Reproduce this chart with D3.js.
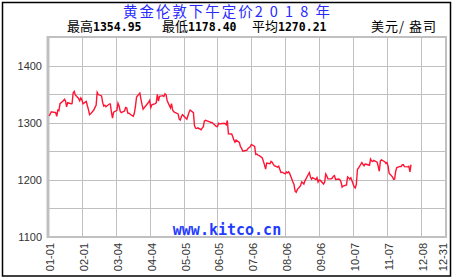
<!DOCTYPE html>
<html>
<head>
<meta charset="utf-8">
<script src="https://cdn.jsdelivr.net/npm/d3@7"></script>
<style>
body { margin: 0; background: #fff; }
</style>
</head>
<body>
<script>
// London PM gold fix 2018, trading days (MM-DD) and prices
var tradeDays = [
	'01-02','01-03','01-04','01-05','01-08','01-09','01-10','01-11','01-12','01-15','01-16','01-17','01-18','01-19','01-22','01-23','01-24','01-25','01-26','01-29','01-30','01-31',
	'02-01','02-02','02-05','02-06','02-07','02-08','02-09','02-12','02-13','02-14','02-15','02-16','02-19','02-20','02-21','02-22','02-23','02-26','02-27','02-28',
	'03-01','03-02','03-05','03-06','03-07','03-08','03-09','03-12','03-13','03-14','03-15','03-16','03-19','03-20','03-21','03-22','03-23','03-26','03-27','03-28','03-29',
	'04-03','04-04','04-05','04-06','04-09','04-10','04-11','04-12','04-13','04-16','04-17','04-18','04-19','04-20','04-23','04-24','04-25','04-26','04-27','04-30',
	'05-01','05-02','05-03','05-04','05-08','05-09','05-10','05-11','05-14','05-15','05-16','05-17','05-18','05-21','05-22','05-23','05-24','05-25','05-29','05-30','05-31',
	'06-01','06-04','06-05','06-06','06-07','06-08','06-11','06-12','06-13','06-14','06-15','06-18','06-19','06-20','06-21','06-22','06-25','06-26','06-27','06-28','06-29',
	'07-02','07-03','07-04','07-05','07-06','07-09','07-10','07-11','07-12','07-13','07-16','07-17','07-18','07-19','07-20','07-23','07-24','07-25','07-26','07-27','07-30','07-31',
	'08-01','08-02','08-03','08-06','08-07','08-08','08-09','08-10','08-13','08-14','08-15','08-16','08-17','08-20','08-21','08-22','08-23','08-24','08-28','08-29','08-30','08-31',
	'09-03','09-04','09-05','09-06','09-07','09-10','09-11','09-12','09-13','09-14','09-17','09-18','09-19','09-20','09-21','09-24','09-25','09-26','09-27','09-28',
	'10-01','10-02','10-03','10-04','10-05','10-08','10-09','10-10','10-11','10-12','10-15','10-16','10-17','10-18','10-19','10-22','10-23','10-24','10-25','10-26','10-29','10-30','10-31',
	'11-01','11-02','11-05','11-06','11-07','11-08','11-09','11-12','11-13','11-14','11-15','11-16','11-19','11-20','11-21','11-22','11-23','11-26','11-27','11-28','11-29'
];
var pmFix = [
	1312.05,1314.95,1319.10,1318.65,1317.60,1311.00,1322.00,1321.10,1333.25,1338.35,1340.95,1338.25,1327.75,1335.00,1333.30,1333.55,1352.00,1354.95,1348.70,1342.55,1338.35,1343.35,
	1340.00,1333.05,1337.15,1329.70,1323.00,1313.95,1315.50,1322.65,1326.85,1330.55,1353.15,1349.25,1346.80,1335.20,1329.10,1330.70,1328.00,1332.65,1332.85,1318.35,
	1308.05,1318.50,1321.65,1334.10,1329.20,1320.30,1317.75,1320.60,1326.60,1325.60,1316.85,1316.55,1312.20,1311.25,1317.00,1329.05,1345.00,1351.90,1341.30,1331.65,1323.85,
	1335.70,1339.05,1326.65,1331.45,1333.45,1334.90,1349.45,1337.95,1346.20,1347.30,1345.95,1350.85,1348.85,1338.25,1325.95,1333.50,1322.20,1319.40,1318.20,1315.45,
	1306.15,1304.60,1311.00,1314.05,1306.20,1312.10,1318.35,1322.25,1317.70,1294.70,1290.30,1289.85,1290.95,1287.75,1290.55,1292.60,1302.60,1304.05,1301.40,1300.40,1300.45,
	1298.50,1293.15,1293.25,1299.00,1298.05,1298.20,1299.10,1298.45,1296.40,1303.95,1280.60,1280.25,1275.50,1269.95,1265.85,1269.85,1265.70,1257.95,1255.70,1250.45,1250.45,
	1252.00,1255.00,1256.50,1258.00,1262.00,1258.65,1244.60,1245.30,1243.30,1242.80,1238.20,1232.30,1226.20,1218.75,1229.20,1228.15,1232.20,1230.70,1227.55,1224.85,1222.15,1223.85,
	1218.50,1212.90,1213.35,1210.55,1213.65,1212.40,1214.00,1211.25,1196.40,1192.05,1180.40,1178.40,1182.85,1189.70,1196.40,1194.75,1192.65,1198.30,1212.80,1205.50,1201.20,1203.75,
	1200.50,1204.00,1196.05,1199.80,1199.40,1192.65,1195.85,1210.30,1206.80,1201.80,1202.05,1203.05,1206.40,1207.55,1200.70,1201.50,1200.35,1196.10,1187.25,1189.25,
	1191.20,1205.20,1203.45,1201.35,1203.50,1187.75,1185.80,1192.15,1218.30,1220.75,1230.35,1227.35,1224.80,1227.75,1227.25,1225.50,1236.35,1233.00,1232.10,1234.05,1230.95,1223.85,1215.00,
	1233.15,1234.90,1231.80,1228.75,1230.30,1224.25,1211.50,1205.35,1201.25,1201.50,1215.05,1221.55,1223.45,1223.25,1226.40,1226.35,1223.20,1222.75,1223.80,1213.95,1226.60
];

// axis ticks
var xTickLabels = ['01-01','02-01','03-04','04-04','05-05','06-05','07-06','08-06','09-06','10-07','11-07','12-08','12-31'];
var yTickLabels = [1100, 1200, 1300, 1400];
var yGrid = [1150, 1200, 1250, 1300, 1350, 1400];

// header texts
var title = '黄金伦敦下午定价2 0 1 8 年';
var statNames = ['最高', '最低', '平均'];
var statValues = ['1354.95', '1178.40', '1270.21'];
var unitText = '美元/ 盎司';

var width = 456,
	height = 280,
	plotL = 48, plotR = 446, plotT = 37, plotB = 237;

var parse = d3.utcParse('%Y-%m-%d');
var data = tradeDays.map(function(d, i) {
	return { date: parse('2018-' + d), v: pmFix[i] };
});

var xScale = d3.scaleUtc()
	.domain([parse('2018-01-01'), parse('2018-12-31')])
	.range([plotL, plotR]);

var yScale = d3.scaleLinear()
	.domain([1100, 1450])
	.range([plotB, plotT]);

var svg = d3.select('body').append('svg')
	.attr('width', width)
	.attr('height', height)
	.style('display', 'block');

svg.append('rect')
	.attr('width', width).attr('height', height)
	.attr('fill', '#fff');

// outer black frame
svg.append('rect')
	.attr('x', 2.5).attr('y', 2.5)
	.attr('width', 448).attr('height', 273.5)
	.attr('fill', 'none')
	.attr('stroke', '#000')
	.attr('stroke-width', 1.5);

// grid
svg.append('g').selectAll('line')
	.data(yGrid)
	.enter().append('line')
		.attr('x1', plotL).attr('x2', plotR)
		.attr('y1', function(d) { return Math.round(yScale(d)) + 0.5; })
		.attr('y2', function(d) { return Math.round(yScale(d)) + 0.5; })
		.attr('stroke', '#c0c0c0');

svg.append('g').selectAll('line')
	.data(xTickLabels.slice(1, -1))
	.enter().append('line')
		.attr('x1', function(d) { return Math.round(xScale(parse('2018-' + d))) + 0.5; })
		.attr('x2', function(d) { return Math.round(xScale(parse('2018-' + d))) + 0.5; })
		.attr('y1', plotT).attr('y2', plotB)
		.attr('stroke', '#c0c0c0');

// plot border
svg.append('rect')
	.attr('x', plotL).attr('y', plotT)
	.attr('width', plotR - plotL).attr('height', plotB - plotT)
	.attr('fill', 'none')
	.attr('stroke', '#c0c0c0')
	.attr('stroke-width', 2);
svg.append('line')
	.attr('x1', plotL).attr('x2', plotL)
	.attr('y1', plotT - 1).attr('y2', plotB + 1)
	.attr('stroke', '#c0c0c0')
	.attr('stroke-width', 3);

// y labels
svg.append('g').selectAll('text')
	.data(yTickLabels)
	.enter().append('text')
		.attr('x', 42)
		.attr('y', function(d) { return yScale(d); })
		.attr('dy', '0.36em')
		.attr('text-anchor', 'end')
		.style('font', '11px "Liberation Sans", Arial, sans-serif')
		.attr('fill', '#333')
		.text(function(d) { return d; });

// x labels, rotated
svg.append('g').selectAll('text')
	.data(xTickLabels)
	.enter().append('text')
		.attr('transform', function(d, i) {
			var off = i === xTickLabels.length - 1 ? -3 : 2;
			return 'translate(' + (xScale(parse('2018-' + d)) + off) + ',243) rotate(-90)';
		})
		.attr('dy', '0.36em')
		.attr('text-anchor', 'end')
		.style('font', '11px "Liberation Sans", Arial, sans-serif')
		.attr('fill', '#333')
		.text(function(d) { return d; });

// watermark
svg.append('text')
	.attr('x', 227).attr('y', 235)
	.attr('text-anchor', 'middle')
	.style('font', 'bold 15px "DejaVu Sans Mono", monospace')
	.attr('fill', '#1f3cff')
	.text('www.kitco.cn');

// price line
var line = d3.line()
	.x(function(d) { return xScale(d.date); })
	.y(function(d) { return yScale(d.v); });

svg.append('path')
	.datum(data)
	.attr('d', line)
	.attr('fill', 'none')
	.attr('stroke', '#ff1434')
	.attr('stroke-width', 1.4);

// header
svg.append('text')
	.attr('x', 123).attr('y', 16.5)
	.attr('textLength', 207)
	.attr('lengthAdjust', 'spacing')
	.style('font', '14.5px "Noto Sans CJK SC", sans-serif')
	.attr('fill', '#2a2aff')
	.text(title);

var statX = [67, 162, 252];
statNames.forEach(function(n, i) {
	var t = svg.append('text')
		.attr('x', statX[i]).attr('y', 31)
		.attr('fill', '#000');
	t.append('tspan')
		.style('font', '13px "Noto Sans CJK SC", sans-serif')
		.text(n);
	t.append('tspan')
		.style('font', 'bold 11.5px "DejaVu Sans Mono", monospace')
		.text(statValues[i]);
});

svg.append('text')
	.attr('x', 371).attr('y', 31)
	.attr('textLength', 65)
	.attr('lengthAdjust', 'spacing')
	.style('font', '13px "Noto Sans CJK SC", sans-serif')
	.attr('fill', '#000')
	.text(unitText);
</script>
</body>
</html>
